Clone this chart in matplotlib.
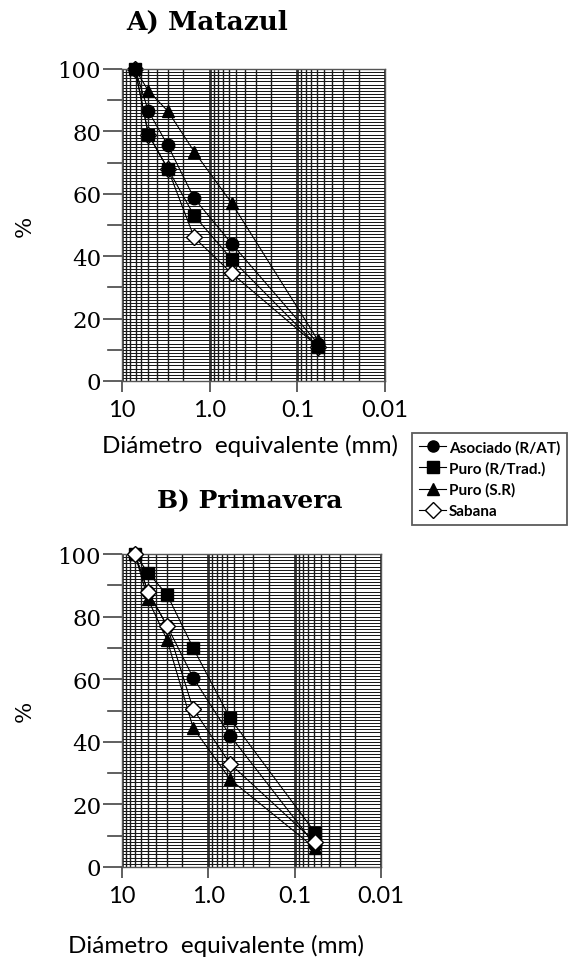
import matplotlib
matplotlib.use("Agg")
import matplotlib.pyplot as plt
from matplotlib.ticker import LogLocator, FixedLocator, NullFormatter
import numpy as np

# ---- data ----
diametro = [7.1, 5.0, 3.0, 1.5, 0.56, 0.058]

asociado_A = [100, 86.5, 75.5, 58.5, 44, 12]
puro_rt_A  = [100, 79, 68, 53, 39, 11]
puro_sr_A  = [100, 93, 86.5, 73.5, 57, 13]
sabana_A   = [100, 79, 68, 46, 34.5, 11]

asociado_B = [100, 88, 77, 60.5, 42, 7]
puro_rt_B  = [100, 94, 87, 70, 47.5, 11]
puro_sr_B  = [100, 85.5, 72.5, 44.5, 28, 6]
sabana_B   = [100, 88, 77, 50.5, 33, 8]

series_names = ["Asociado (R/AT)", "Puro (R/Trad.)", "Puro (S.R)", "Sabana"]
x_ticks = [10, 1, 0.1, 0.01]
x_ticklabels = ["10", "1.0", "0.1", "0.01"]

SANS = ["Lato", "DejaVu Sans"]
SERIF = ["DejaVu Serif"]

styles = [
    dict(marker="o", mfc="black", mec="black", ms=9),
    dict(marker="s", mfc="black", mec="black", ms=8.5),
    dict(marker="^", mfc="black", mec="black", ms=9),
    dict(marker="D", mfc="white", mec="black", ms=8, mew=1.0),
]

fig = plt.figure(figsize=(5.69, 9.70), dpi=100)


def draw_panel(rect, data, sabana_z):
    ax = fig.add_axes(rect)
    ax.set_xscale("log")
    ax.set_xlim(10, 0.01)
    ax.set_ylim(0, 100)

    # dense paper-like grid
    ax.xaxis.set_minor_locator(LogLocator(base=10, subs=np.arange(2, 10)))
    ax.xaxis.set_minor_formatter(NullFormatter())
    ax.yaxis.set_minor_locator(FixedLocator(np.arange(0, 101, 1)))
    ax.grid(which="major", axis="x", color="#333333", lw=2.0)
    ax.grid(which="minor", axis="x", color="#1a1a1a", lw=1.0)
    ax.grid(which="minor", axis="y", color="#1a1a1a", lw=0.72)
    ax.grid(which="major", axis="y", color="#1a1a1a", lw=0.72)
    ax.set_axisbelow(True)

    for i, (vals, st) in enumerate(zip(data, styles)):
        z = sabana_z if i == 3 else 3
        ax.plot(diametro, vals, color="black", lw=0.8, zorder=z,
                label=series_names[i], clip_on=False, **st)

    ax.set_xticks(x_ticks)
    ax.set_xticklabels(x_ticklabels, family=SANS, fontsize=17)
    ax.set_yticks([0, 20, 40, 60, 80, 100])
    ax.set_yticklabels(["0", "20", "40", "60", "80", "100"],
                       family=SERIF, fontsize=16.5)
    ax.tick_params(axis="y", which="major", length=14, width=1.2, color="#444444", pad=1)
    ax.tick_params(axis="y", which="minor", length=0)
    ax.tick_params(axis="x", which="major", length=8, width=1.2, color="#444444", pad=5)
    ax.tick_params(axis="x", which="minor", length=0)
    # minor y tick marks at 10, 30, ...
    for yv in [10, 30, 50, 70, 90]:
        ax.plot([-14 / 263, 0], [yv, yv], transform=ax.get_yaxis_transform(),
                color="#444444", lw=1.2, clip_on=False)
    for s in ax.spines.values():
        s.set_color("#555555")
        s.set_linewidth(1.0)
    ax.set_ylabel("%", family=SERIF, fontsize=16, labelpad=16)
    return ax


W, H = 569, 970
axA = draw_panel([122 / W, 1 - 382 / H, (385 - 122) / W, (382 - 70) / H],
                 [asociado_A, puro_rt_A, puro_sr_A, sabana_A], sabana_z=2)
axB = draw_panel([122 / W, 1 - 868 / H, (381 - 122) / W, (868 - 555) / H],
                 [asociado_B, puro_rt_B, puro_sr_B, sabana_B], sabana_z=4)

fig.text(207 / W, 1 - 22 / H, "A) Matazul", family=SERIF, fontweight="bold",
         fontsize=19, ha="center", va="center")
fig.text(250 / W, 1 - 500 / H, "B) Primavera", family=SERIF, fontweight="bold",
         fontsize=18, ha="center", va="center")
fig.text(250 / W, 1 - 446 / H, "Diámetro  equivalente (mm)", family=SANS,
         fontsize=17.5, ha="center", va="center")
fig.text(216 / W, 1 - 946 / H, "Diámetro  equivalente (mm)", family=SANS,
         fontsize=17.5, ha="center", va="center")

handles, labels = axA.get_legend_handles_labels()
leg = fig.legend(handles, labels, loc="upper left", bbox_to_anchor=(412 / W, 1 - 434 / H),
                 frameon=True, fancybox=False, handlelength=1.8, handletextpad=0.15,
                 borderpad=0.45, labelspacing=0.45, borderaxespad=0,
                 prop={"family": SANS, "weight": "bold", "size": 11})
leg.get_frame().set_edgecolor("#333333")
leg.get_frame().set_linewidth(1.3)
for h in leg.legend_handles:
    h.set_markersize(8)

fig.savefig("out.png", dpi=100)
